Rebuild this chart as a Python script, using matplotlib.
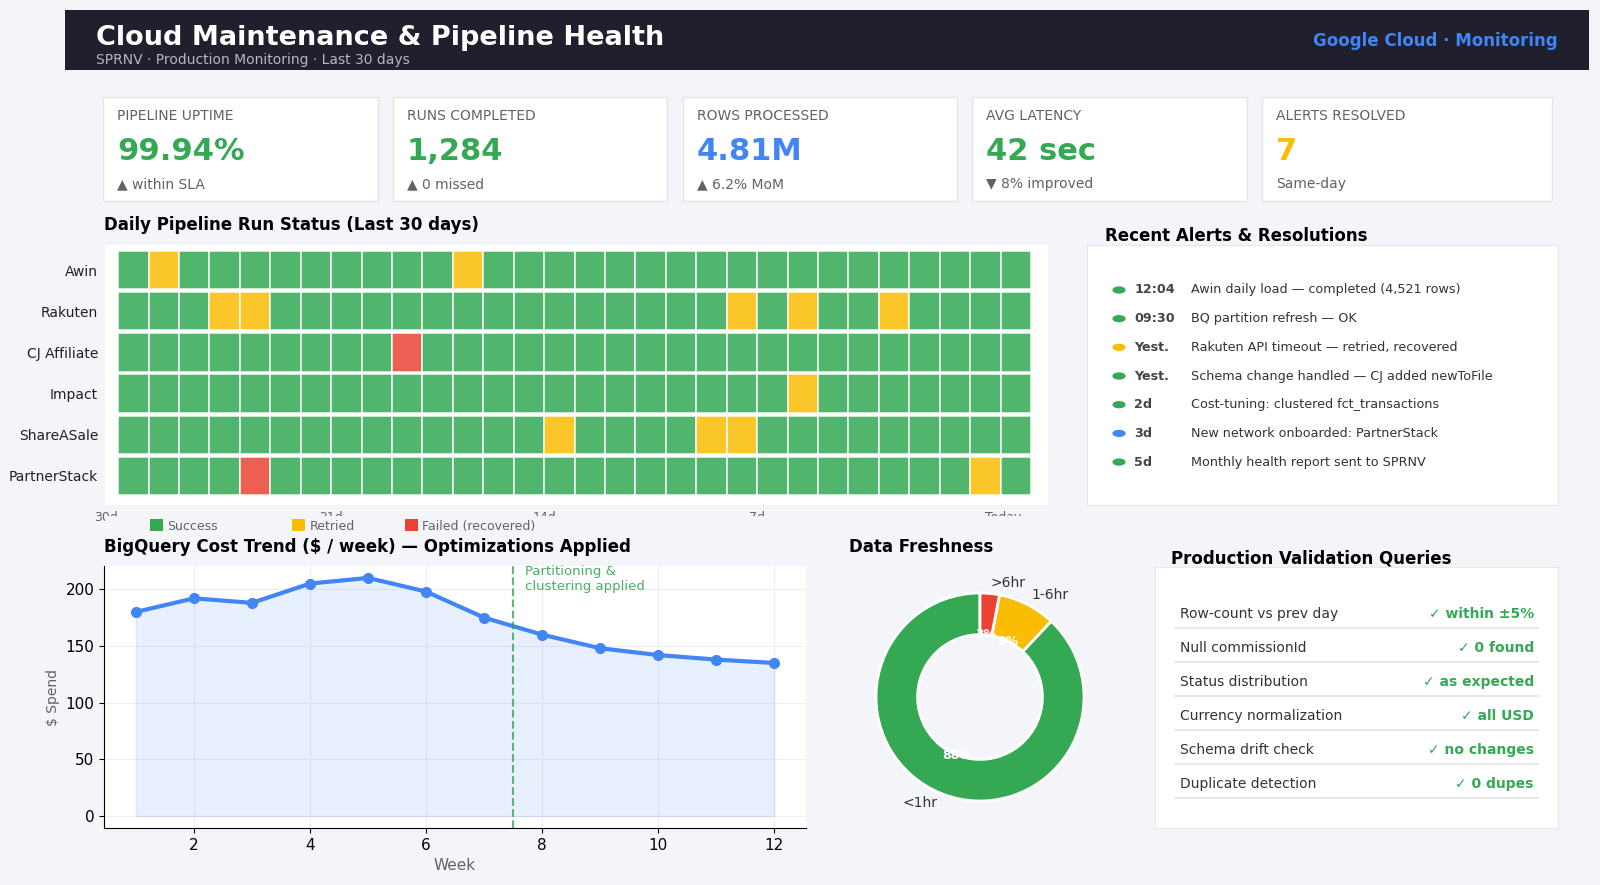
import matplotlib
matplotlib.use("Agg")
import matplotlib.pyplot as plt
from matplotlib.patches import Rectangle, Circle, Patch

W, H = 1600, 885
BG = "#f4f5f8"
DARK = "#1f1f2d"
GREEN = "#34A853"
YELLOW = "#FBBC04"
RED = "#EA4335"
BLUE = "#4285F4"
GRAY = "#5f6368"
TXT = "#202124"

# ---------------- data ----------------
kpi_labels = ["PIPELINE UPTIME", "RUNS COMPLETED", "ROWS PROCESSED", "AVG LATENCY", "ALERTS RESOLVED"]
kpi_values = ["99.94%", "1,284", "4.81M", "42 sec", "7"]
kpi_subs = ["▲ within SLA", "▲ 0 missed", "▲ 6.2% MoM", "▼ 8% improved", "Same-day"]
kpi_colors = [GREEN, GREEN, BLUE, GREEN, YELLOW]

networks = ["Awin", "Rakuten", "CJ Affiliate", "Impact", "ShareASale", "PartnerStack"]
# 0 = success, 1 = retried, 2 = failed (recovered)
status_awin =         [0,1,0,0,0,0,0,0,0,0,0,1,0,0,0,0,0,0,0,0,0,0,0,0,0,0,0,0,0,0]
status_rakuten =      [0,0,0,1,1,0,0,0,0,0,0,0,0,0,0,0,0,0,0,0,1,0,1,0,0,1,0,0,0,0]
status_cj =           [0,0,0,0,0,0,0,0,0,2,0,0,0,0,0,0,0,0,0,0,0,0,0,0,0,0,0,0,0,0]
status_impact =       [0,0,0,0,0,0,0,0,0,0,0,0,0,0,0,0,0,0,0,0,0,0,1,0,0,0,0,0,0,0]
status_shareasale =   [0,0,0,0,0,0,0,0,0,0,0,0,0,0,1,0,0,0,0,1,1,0,0,0,0,0,0,0,0,0]
status_partnerstack = [0,0,0,0,2,0,0,0,0,0,0,0,0,0,0,0,0,0,0,0,0,0,0,0,0,0,0,0,1,0]
status_rows = [status_awin, status_rakuten, status_cj, status_impact,
               status_shareasale, status_partnerstack]
status_names = ["Success", "Retried", "Failed (recovered)"]
day_tick_pos = [-0.9, 6.5, 13.5, 20.5, 28.6]
day_tick_labels = ["30d", "21d", "14d", "7d", "Today"]

weeks = [1, 2, 3, 4, 5, 6, 7, 8, 9, 10, 11, 12]
cost = [180, 192, 188, 205, 210, 198, 175, 160, 148, 142, 138, 135]
optim_week = 7.5

fresh_labels = ["<1hr", "1-6hr", ">6hr"]
fresh_values = [88, 9, 3]

alert_times = ["12:04", "09:30", "Yest.", "Yest.", "2d", "3d", "5d"]
alert_msgs = ["Awin daily load — completed (4,521 rows)",
              "BQ partition refresh — OK",
              "Rakuten API timeout — retried, recovered",
              "Schema change handled — CJ added newToFile",
              "Cost-tuning: clustered fct_transactions",
              "New network onboarded: PartnerStack",
              "Monthly health report sent to SPRNV"]
alert_levels = ["ok", "ok", "warn", "ok", "ok", "info", "ok"]

checks = ["Row-count vs prev day", "Null commissionId", "Status distribution",
          "Currency normalization", "Schema drift check", "Duplicate detection"]
check_results = ["within ±5%", "0 found", "as expected", "all USD", "no changes", "0 dupes"]

# ---------------- helpers ----------------
def fx(px):
    return px / W

def fy(py):
    return 1 - py / H

def box(l, t, r, b):
    return [fx(l), fy(b), (r - l) / W, (b - t) / H]

fig = plt.figure(figsize=(16, 8.85), dpi=100, facecolor=BG)

# ---------------- header ----------------
fig.add_artist(Rectangle((fx(65), fy(70)), (1589 - 65) / W, 60 / H,
                         transform=fig.transFigure, fc=DARK, ec="none", zorder=0))
fig.text(fx(96), fy(38), "Cloud Maintenance & Pipeline Health", color="white",
         fontsize=19.5, fontweight="bold", va="center", ha="left")
fig.text(fx(96), fy(60), "SPRNV · Production Monitoring · Last 30 days", color="#b4b6c0",
         fontsize=10, va="center", ha="left")
fig.text(fx(1558), fy(41), "Google Cloud · Monitoring", color=BLUE,
         fontsize=12, fontweight="bold", va="center", ha="right")

# ---------------- KPI cards ----------------
card_l = [103, 393, 683, 972, 1262]
card_r = [378, 667, 957, 1247, 1552]
ct, cb = 97, 201
for i in range(5):
    l, r = card_l[i], card_r[i]
    fig.add_artist(Rectangle((fx(l), fy(cb)), (r - l) / W, (cb - ct) / H,
                             transform=fig.transFigure, fc="white", ec="#e3e5e9", lw=1))
    fig.text(fx(l + 14), fy(116), kpi_labels[i], fontsize=10, color=GRAY, va="center")
    fig.text(fx(l + 14), fy(151), kpi_values[i], fontsize=22, fontweight="bold",
             color=kpi_colors[i], va="center")
    fig.text(fx(l + 14), fy(184), kpi_subs[i], fontsize=10, color=GRAY, va="center")

# ---------------- heatmap ----------------
fig.text(fx(104), fy(225), "Daily Pipeline Run Status (Last 30 days)", fontsize=12,
         fontweight="bold", va="center", color="black")
axh = fig.add_axes(box(105, 245, 1048, 505))
axh.set_facecolor("white")
status_colors = [GREEN, YELLOW, RED]
for i, row in enumerate(status_rows):
    for j, s in enumerate(row):
        axh.add_patch(Rectangle((j - 0.5, i - 0.465), 1, 0.93, fc=status_colors[s],
                                ec="white", lw=1.2, alpha=0.85))
axh.set_xlim(-0.93, 30.06)
axh.set_ylim(5.71, -0.61)
axh.set_yticks(range(len(networks)), networks, fontsize=10, color=TXT)
axh.set_xticks(day_tick_pos, day_tick_labels, fontsize=9, color=GRAY)
axh.tick_params(length=0, pad=5)
axh.tick_params(axis="x", pad=4.5)
for s in axh.spines.values():
    s.set_visible(False)

# legend band below the heatmap (it hides most of the day tick labels, as in the original)
fig.add_artist(Rectangle((fx(105), fy(535)), (1048 - 105) / W, 19 / H, transform=fig.transFigure,
                         fc=BG, ec="none", zorder=5))
legend_x = [150, 292, 405]
for k in range(3):
    leg = fig.legend([Patch(fc=status_colors[k], ec="none")], [status_names[k]],
                     loc="center left", bbox_to_anchor=(fx(legend_x[k]), fy(526)),
                     frameon=False, fontsize=9, handlelength=1.0, handleheight=1.1,
                     handletextpad=0.4, borderpad=0, borderaxespad=0, labelcolor=GRAY)
    leg.set_zorder(10)

# ---------------- cost trend ----------------
fig.text(fx(104), fy(547), "BigQuery Cost Trend ($ / week) — Optimizations Applied",
         fontsize=12, fontweight="bold", va="center")
axc = fig.add_axes(box(104, 566, 806, 828))
axc.set_facecolor("white")
axc.fill_between(weeks, cost, 0, color=BLUE, alpha=0.12)
axc.plot(weeks, cost, color=BLUE, lw=3, marker="o", ms=7)
axc.axvline(optim_week, color=GREEN, ls="--", lw=1.5, alpha=0.8)
axc.text(optim_week + 0.2, 221, "Partitioning &\nclustering applied", color=GREEN,
         fontsize=9.5, va="top", ha="left", alpha=0.9)
axc.grid(True, color="#eeeeee", lw=0.8)
axc.set_axisbelow(True)
axc.spines["top"].set_visible(False)
axc.spines["right"].set_visible(False)
axc.tick_params(labelsize=11)
axc.set_xlabel("Week", fontsize=11, color=GRAY)
axc.set_ylabel("$ Spend", fontsize=10, color=GRAY)

# ---------------- freshness donut ----------------
fig.text(fx(849), fy(547), "Data Freshness", fontsize=12, fontweight="bold", va="center")
axd = fig.add_axes(box(850, 567, 1110, 827))
wedges, texts, autotexts = axd.pie(
    fresh_values, labels=fresh_labels, colors=[GREEN, YELLOW, RED], startangle=90,
    wedgeprops=dict(width=0.4, edgecolor="white", linewidth=2),
    autopct="%.0f%%", pctdistance=0.6, textprops=dict(fontsize=10, color="#333333"))
for t in autotexts:
    t.set_color("white")
    t.set_fontweight("bold")
    t.set_fontsize(9)

# ---------------- alerts panel ----------------
fig.text(fx(1105), fy(236), "Recent Alerts & Resolutions", fontsize=12,
         fontweight="bold", va="center")
axa = fig.add_axes(box(1087, 245, 1558, 505))
axa.set_facecolor("white")
axa.set_xlim(0, 1)
axa.set_ylim(0, 1)
axa.set_xticks([])
axa.set_yticks([])
for s in axa.spines.values():
    s.set_color("#e6e8eb")
level_colors = {"ok": GREEN, "warn": YELLOW, "info": BLUE}
for i in range(len(alert_times)):
    y = 0.827 - 0.1103 * i
    axa.add_patch(Circle((0.068, y), 0.014, fc=level_colors[alert_levels[i]], ec="none"))
    axa.text(0.10, y, alert_times[i], fontsize=9.2, fontweight="bold", color="#444444", va="center")
    axa.text(0.221, y, alert_msgs[i], fontsize=9.2, color="#333333", va="center")

# ---------------- validation panel ----------------
fig.text(fx(1171), fy(558), "Production Validation Queries", fontsize=12,
         fontweight="bold", va="center")
axv = fig.add_axes(box(1155, 567, 1558, 828))
axv.set_facecolor("white")
axv.set_xlim(0, 1)
axv.set_ylim(0, 1)
axv.set_xticks([])
axv.set_yticks([])
for s in axv.spines.values():
    s.set_color("#e6e8eb")
for i in range(len(checks)):
    y = 0.82 - 0.1304 * i
    axv.text(0.062, y, checks[i], fontsize=10, color="#333333", va="center")
    axv.text(0.94, y, "✓ " + check_results[i], fontsize=10, fontweight="bold",
             color=GREEN, va="center", ha="right")
    axv.plot([0.05, 0.95], [y - 0.052, y - 0.052], color="#e3e3e3", lw=1.2)

fig.savefig("out.png", dpi=100, facecolor=BG)
